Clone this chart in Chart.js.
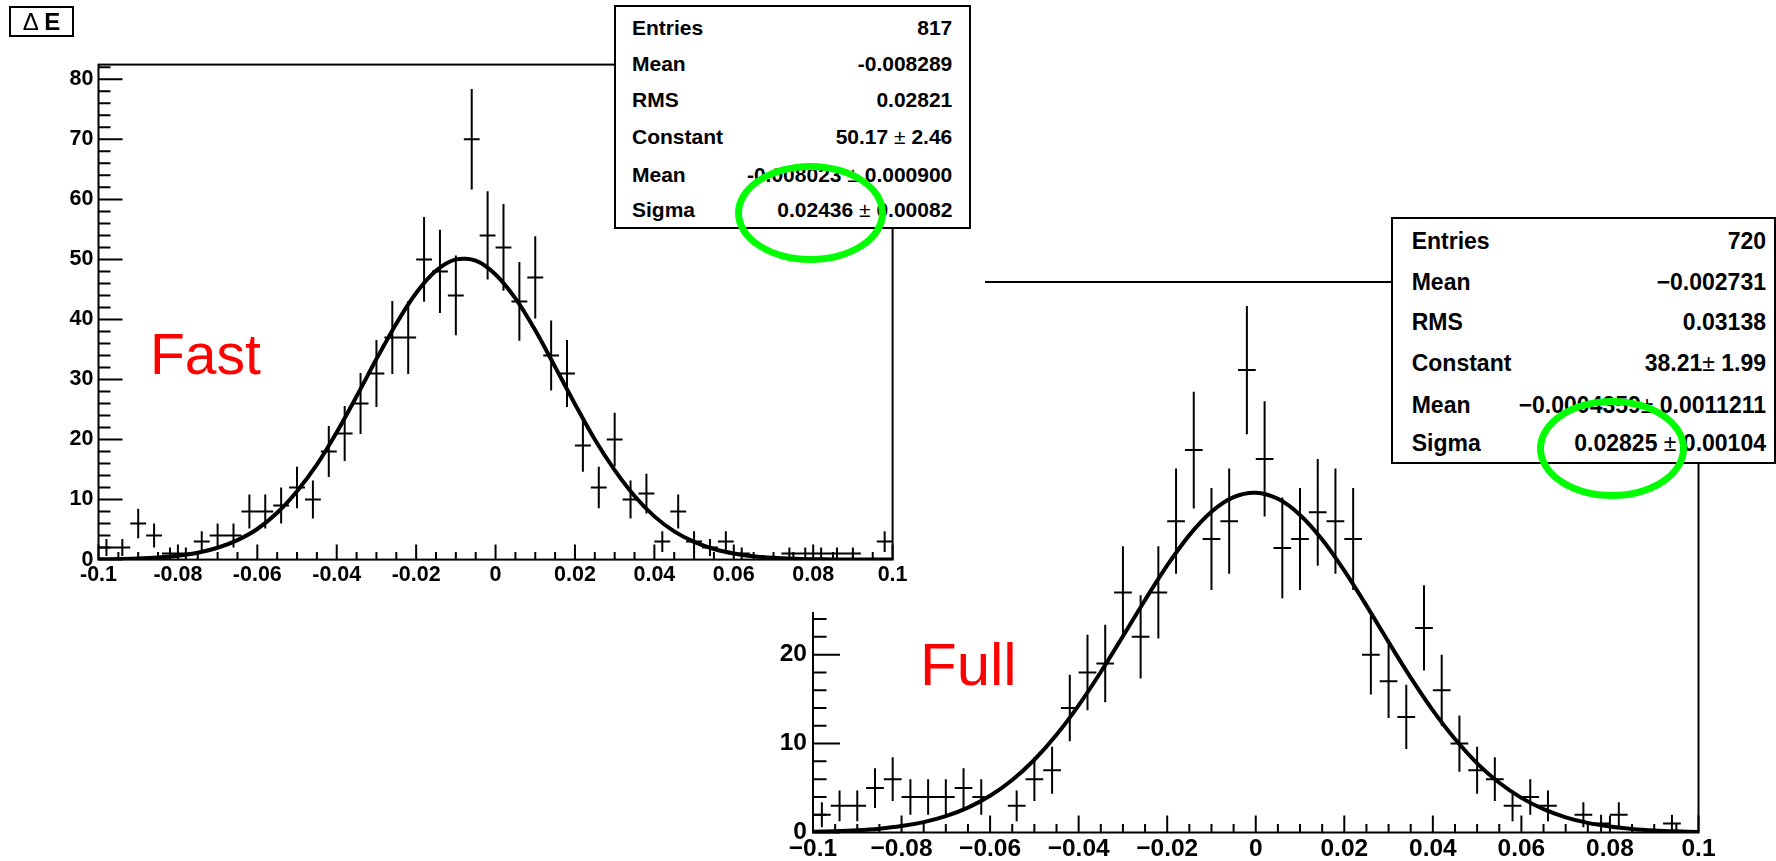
<!DOCTYPE html>
<html>
<head>
<meta charset="utf-8">
<title>ΔE Fast / Full</title>
<script src="https://cdn.jsdelivr.net/npm/chart.js@4.4.1/dist/chart.umd.min.js"></script>
<style>
  html, body { margin: 0; padding: 0; background: #fff; }
  body { width: 1776px; height: 861px; position: relative; overflow: hidden;
         font-family: 'Liberation Sans', Arial, sans-serif; }
  canvas { position: absolute; }
  #fullChart { left: 740px; top: 260px; z-index: 1; }
  #fastChart { left: 0; top: 0; z-index: 2; background: #fff; }
  .stats { position: absolute; box-sizing: border-box; border: 2px solid #000; background: #fff; }
  .stats span { position: absolute; font-weight: bold; line-height: 1; white-space: nowrap; }
  .stats .pm { position: static; font-weight: normal; }
  #fastStats { left: 614px; top: 5px; width: 357px; height: 224px; font-size: 21px; z-index: 4; }
  #fullStats { left: 1391px; top: 217px; width: 385px; height: 247px; font-size: 23px; z-index: 3; }
  .tag { position: absolute; color: #ff0000; line-height: 1; z-index: 5; }
  #fastTag { left: 150px; top: 326px; font-size: 57px; }
  #fullTag { left: 920px; top: 635px; font-size: 60px; }
  #title { position: absolute; left: 9px; top: 6px; width: 65px; height: 31px; box-sizing: border-box;
           border: 2px solid #000; font-size: 24px; line-height: 27px; text-align: center; z-index: 5; }
  .ring { position: absolute; box-sizing: border-box; border: 7.5px solid #00ff00; border-radius: 50%; z-index: 6; }
  #fastRing { left: 735px; top: 163px; width: 151px; height: 100px; }
  #fullRing { left: 1537px; top: 398px; width: 150px; height: 101px; }
</style>
</head>
<body>
<canvas id="fullChart" width="1036" height="601"></canvas>
<canvas id="fastChart" width="985" height="612"></canvas>
<div class="stats" id="fullStats"></div>
<div class="stats" id="fastStats"></div>
<div id="title"><span>Δ</span> <b>E</b></div>
<div class="tag" id="fastTag">Fast</div>
<div class="tag" id="fullTag">Full</div>
<div class="ring" id="fastRing"></div>
<div class="ring" id="fullRing"></div>

<script>
// ---- data ----
// bin centres of the ΔE histograms (50 bins, -0.1 .. 0.1)
const binCenters = [
  -0.098, -0.094, -0.090, -0.086, -0.082, -0.078, -0.074, -0.070, -0.066, -0.062,
  -0.058, -0.054, -0.050, -0.046, -0.042, -0.038, -0.034, -0.030, -0.026, -0.022,
  -0.018, -0.014, -0.010, -0.006, -0.002,  0.002,  0.006,  0.010,  0.014,  0.018,
   0.022,  0.026,  0.030,  0.034,  0.038,  0.042,  0.046,  0.050,  0.054,  0.058,
   0.062,  0.066,  0.070,  0.074,  0.078,  0.082,  0.086,  0.090,  0.094,  0.098
];
const fastCounts = [
  2, 2, 6, 4, 1, 1, 3, 4, 4, 8,
  8, 9, 12, 10, 18, 21, 26, 31, 37, 37,
  50, 48, 44, 70, 54, 52, 43, 47, 34, 31,
  19, 12, 20, 10, 11, 3, 8, 3, 2, 3,
  1, 0, 0, 1, 1, 1, 1, 1, 0, 3
];
const fullCounts = [
  2, 3, 3, 5, 6, 4, 4, 4, 5, 4,
  0, 3, 6, 7, 14, 18, 19, 27, 22, 27,
  35, 43, 33, 35, 52, 42, 32, 33, 36, 35,
  33, 20, 17, 13, 23, 16, 10, 7, 6, 3,
  4, 3, 0, 2, 1, 2, 0, 0, 1, 0
];

// gaussian fit curves
const fitX = [
  -0.100, -0.095, -0.090, -0.085, -0.080, -0.075, -0.070, -0.065, -0.060, -0.055,
  -0.050, -0.045, -0.040, -0.035, -0.030, -0.025, -0.020, -0.015, -0.010, -0.005,
   0.000,  0.005,  0.010,  0.015,  0.020,  0.025,  0.030,  0.035,  0.040,  0.045,
   0.050,  0.055,  0.060,  0.065,  0.070,  0.075,  0.080,  0.085,  0.090,  0.095, 0.100
];
const fastFit = [
  0.04, 0.09, 0.17, 0.34, 0.64, 1.14, 1.97, 3.25, 5.1, 7.8,
  11.4, 15.8, 21.2, 27.2, 33.4, 39.3, 44.4, 48.1, 50.0, 49.8,
  47.5, 43.5, 38.2, 32.1, 25.9, 20.0, 14.9, 10.6, 7.2, 4.7,
  2.95, 1.77, 1.02, 0.56, 0.30, 0.15, 0.07, 0.03, 0.02, 0.01, 0.0
];
const fullFit = [
  0.08, 0.14, 0.25, 0.43, 0.72, 1.17, 1.84, 2.80, 4.13, 5.90,
  8.18, 10.99, 14.30, 18.05, 22.07, 26.15, 30.03, 33.44, 36.07, 37.71,
  38.21, 37.52, 35.71, 32.94, 29.44, 25.51, 21.41, 17.42, 13.74, 10.51,
  7.78, 5.59, 3.89, 2.62, 1.71, 1.08, 0.67, 0.40, 0.23, 0.13, 0.07
];

// axis ticks
const xTickValues = [-0.1, -0.08, -0.06, -0.04, -0.02, 0, 0.02, 0.04, 0.06, 0.08, 0.1];
const fastXLabels = ['-0.1', '-0.08', '-0.06', '-0.04', '-0.02', '0', '0.02', '0.04', '0.06', '0.08', '0.1'];
const fullXLabels = ['\u22120.1', '\u22120.08', '\u22120.06', '\u22120.04', '\u22120.02', '0', '0.02', '0.04', '0.06', '0.08', '0.1'];
const fastYTicks = [0, 10, 20, 30, 40, 50, 60, 70, 80];
const fullYTicks = [0, 10, 20, 30, 40, 50, 60];

// stats boxes
const statLabels = ['Entries', 'Mean', 'RMS', 'Constant', 'Mean', 'Sigma'];
const fastStatValues = ['817', '-0.008289', '0.02821', '50.17 ± 2.46', '-0.008023 ± 0.000900', '0.02436 ± 0.00082'];
const fullStatValues = ['720', '\u22120.002731', '0.03138', '38.21± 1.99', '\u22120.0004359± 0.0011211', '0.02825 ± 0.00104'];

// ---- drawing ----
const FONT = "'Liberation Sans', Arial, sans-serif";

// ROOT-like pad: error-bar crosses, frame and inward tick marks
const rootPad = {
  id: 'rootPad',
  beforeDatasetsDraw(chart, args, o) {
    const { ctx, chartArea: a, scales: { x, y } } = chart;
    ctx.save();
    ctx.beginPath();
    ctx.rect(a.left, a.top, a.right - a.left, a.bottom - a.top);
    ctx.clip();
    ctx.strokeStyle = '#000';
    ctx.lineWidth = o.barWidth;
    ctx.beginPath();
    chart.data.datasets[0].data.forEach(p => {
      if (p.y <= 0) return;
      const e = Math.sqrt(p.y);
      const px = x.getPixelForValue(p.x);
      const py = y.getPixelForValue(p.y);
      ctx.moveTo(x.getPixelForValue(p.x - o.halfBin), py);
      ctx.lineTo(x.getPixelForValue(p.x + o.halfBin), py);
      ctx.moveTo(px, y.getPixelForValue(p.y + e));
      ctx.lineTo(px, y.getPixelForValue(Math.max(0, p.y - e)));
    });
    ctx.stroke();
    ctx.restore();
  },
  afterDraw(chart, args, o) {
    const { ctx, chartArea: a, scales: { x, y } } = chart;
    ctx.save();
    ctx.strokeStyle = '#000';
    ctx.lineWidth = 2;
    ctx.strokeRect(a.left, a.top, a.right - a.left, a.bottom - a.top);

    ctx.beginPath();
    const xs = x.ticks.map(t => t.value);
    xs.forEach((v, i) => {
      const px = x.getPixelForValue(v);
      ctx.moveTo(px, a.bottom);
      ctx.lineTo(px, a.bottom - o.xMajor);
      if (i < xs.length - 1) {
        for (let k = 1; k < o.xSub; k++) {
          const mx = x.getPixelForValue(v + (xs[i + 1] - v) * k / o.xSub);
          ctx.moveTo(mx, a.bottom);
          ctx.lineTo(mx, a.bottom - o.xMinor);
        }
      }
    });
    const ys = y.ticks.map(t => t.value);
    const yStep = (ys[1] - ys[0]) / o.ySub;
    ys.forEach(v => {
      const py = y.getPixelForValue(v);
      ctx.moveTo(a.left, py);
      ctx.lineTo(a.left + o.yMajor, py);
    });
    for (let m = ys[0] + yStep; m <= y.max + 1e-9; m += yStep) {
      if (Math.abs(m / (ys[1] - ys[0]) - Math.round(m / (ys[1] - ys[0]))) < 1e-6) continue;
      const py = y.getPixelForValue(m);
      ctx.moveTo(a.left, py);
      ctx.lineTo(a.left + o.yMinor, py);
    }
    ctx.stroke();
    ctx.restore();
  }
};

function makePad(id, counts, fit, g) {
  return new Chart(document.getElementById(id), {
    type: 'scatter',
    data: {
      datasets: [
        { label: 'data', data: binCenters.map((x, i) => ({ x, y: counts[i] })), pointRadius: 0, showLine: false },
        { label: 'fit', data: fitX.map((x, i) => ({ x, y: fit[i] })), showLine: true,
          borderColor: '#000', borderWidth: 4, pointRadius: 0, tension: 0.3, fill: false }
      ]
    },
    options: {
      responsive: false,
      animation: false,
      events: [],
      layout: { padding: g.padding },
      plugins: {
        legend: { display: false },
        tooltip: { enabled: false },
        rootPad: { halfBin: 0.002, barWidth: 2, xMajor: g.xMajor, xMinor: g.xMinor, xSub: 4,
                   yMajor: g.yMajor, yMinor: g.yMinor, ySub: 5 }
      },
      scales: {
        x: {
          type: 'linear', min: -0.1, max: 0.1,
          afterBuildTicks: s => { s.ticks = xTickValues.map(v => ({ value: v })); },
          afterFit: s => { s.height = g.xHeight; },
          grid: { display: false, drawTicks: false },
          border: { display: false },
          ticks: {
            color: '#000', padding: g.xPad, maxRotation: 0, minRotation: 0, autoSkip: false,
            font: { family: FONT, size: g.fontSize, weight: 'bold', lineHeight: 1 },
            callback: (v, i) => g.xLabels[i]
          }
        },
        y: {
          type: 'linear', min: 0, max: g.yMax,
          afterBuildTicks: s => { s.ticks = g.yTicks.map(v => ({ value: v })); },
          afterFit: s => { s.width = g.yWidth; },
          grid: { display: false, drawTicks: false },
          border: { display: false },
          ticks: {
            color: '#000', padding: g.yPad, autoSkip: false,
            font: { family: FONT, size: g.fontSize, weight: 'bold', lineHeight: 1 },
            callback: v => String(v)
          }
        }
      }
    },
    plugins: [rootPad]
  });
}

makePad('fullChart', fullCounts, fullFit, {
  padding: { left: 0, top: 22, right: 77.5, bottom: 0 },
  xHeight: 28.5, yWidth: 73, yMax: 61.9, yTicks: fullYTicks, xLabels: fullXLabels,
  fontSize: 24.5, xPad: 4.5, yPad: 6, xMajor: 17, xMinor: 8.5, yMajor: 27, yMinor: 13.5
});

makePad('fastChart', fastCounts, fastFit, {
  padding: { left: 0, top: 64.6, right: 92.4, bottom: 0 },
  xHeight: 52.4, yWidth: 98.5, yMax: 82.45, yTicks: fastYTicks, xLabels: fastXLabels,
  fontSize: 21.5, xPad: 5, yPad: 5, xMajor: 15, xMinor: 7.5, yMajor: 24, yMinor: 12
});

// stats boxes text
function fillStats(id, values, rowTops, labelLeft, valueRight) {
  const box = document.getElementById(id);
  statLabels.forEach((lab, i) => {
    const l = document.createElement('span');
    l.textContent = lab;
    l.style.left = labelLeft + 'px';
    l.style.top = rowTops[i] + 'px';
    box.appendChild(l);
    const v = document.createElement('span');
    const parts = values[i].split('±');
    v.appendChild(document.createTextNode(parts[0]));
    if (parts.length > 1) {
      const pm = document.createElement('span');
      pm.className = 'pm';
      pm.textContent = '±';
      v.appendChild(pm);
      v.appendChild(document.createTextNode(parts[1]));
    }
    v.style.right = valueRight + 'px';
    v.style.top = rowTops[i] + 'px';
    box.appendChild(v);
  });
}
fillStats('fastStats', fastStatValues, [9.9, 46.3, 82.3, 118.9, 157.3, 192.3], 16, 16.7);
fillStats('fullStats', fullStatValues, [11.2, 51.9, 91.9, 132.6, 174.6, 212.6], 18.7, 8);
</script>
</body>
</html>
